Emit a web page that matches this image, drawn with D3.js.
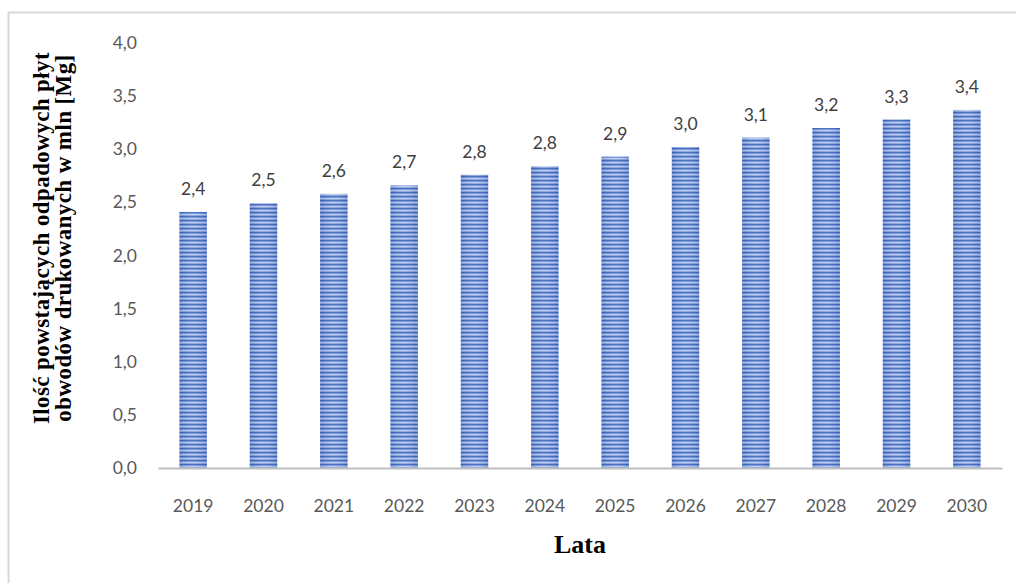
<!DOCTYPE html>
<html>
<head>
<meta charset="utf-8">
<script src="https://cdn.jsdelivr.net/npm/d3@7/dist/d3.min.js"></script>
<style>
  html, body { margin: 0; padding: 0; background: #fff; }
  svg { display: block; }
</style>
</head>
<body>
<svg id="chart" width="1016" height="583"></svg>
<script>
// Years on the x axis
const years = ["2019", "2020", "2021", "2022", "2023", "2024", "2025", "2026", "2027", "2028", "2029", "2030"];
// Waste PCB quantity, million Mg
const amounts = [2.41, 2.49, 2.58, 2.66, 2.76, 2.84, 2.93, 3.02, 3.11, 3.20, 3.28, 3.37];
// Y axis ticks
const yTicks = [0, 0.5, 1.0, 1.5, 2.0, 2.5, 3.0, 3.5, 4.0];
const yTitleLines = ["Ilość powstających odpadowych płyt", "obwodów drukowanych w mln [Mg]"];
const xTitle = "Lata";

const svg = d3.select("#chart");
const fmt = v => d3.format(".1f")(v).replace(".", ",");
const tickFont = "Lato, 'Open Sans', sans-serif";

// outer frame
svg.append("rect")
  .attr("x", 8.5).attr("y", 12.5)
  .attr("width", 1030).attr("height", 600)
  .attr("fill", "none").attr("stroke", "#d9d9d9").attr("stroke-width", 2);

const plot = { left: 158, right: 1002, top: 43, bottom: 468 };

const x = d3.scaleBand().domain(years).range([plot.left, plot.right]).paddingInner(0.61).paddingOuter(0.305);
const y = d3.scaleLinear().domain([0, 4]).range([plot.bottom, plot.top]);

// striped bar fill
const defs = svg.append("defs");
const pat = defs.append("pattern")
  .attr("id", "stripes").attr("patternUnits", "userSpaceOnUse")
  .attr("width", 8).attr("height", 4);
const rows = ["#3862be", "#7391d6", "#b9cbef", "#86a2dc"];
rows.forEach((c, i) => pat.append("rect").attr("x", 0).attr("y", i).attr("width", 8).attr("height", 1).attr("fill", c));

const shade = defs.append("linearGradient").attr("id", "shade").attr("x1", 0).attr("x2", 1).attr("y1", 0).attr("y2", 0);
shade.append("stop").attr("offset", 0).attr("stop-color", "#2f55a8").attr("stop-opacity", 0.25);
shade.append("stop").attr("offset", 0.5).attr("stop-color", "#ffffff").attr("stop-opacity", 0.1);
shade.append("stop").attr("offset", 1).attr("stop-color", "#2f55a8").attr("stop-opacity", 0.25);

const bars = svg.append("g");
years.forEach((yr, i) => {
  const bx = x(yr), bw = x.bandwidth(), by = y(amounts[i]), bh = y(0) - y(amounts[i]);
  bars.append("rect").attr("x", bx).attr("y", by).attr("width", bw).attr("height", bh).attr("fill", "url(#stripes)");
  bars.append("rect").attr("x", bx).attr("y", by).attr("width", bw).attr("height", bh).attr("fill", "url(#shade)");
});

// value labels
svg.append("g").selectAll("text").data(years).join("text")
  .attr("x", d => x(d) + x.bandwidth() / 2)
  .attr("y", (d, i) => y(amounts[i]) - 17)
  .attr("text-anchor", "middle")
  .attr("font-family", tickFont)
  .attr("font-size", 17.5).attr("fill", "#404040")
  .text((d, i) => fmt(amounts[i]));

// y axis
const yAxis = svg.append("g").attr("transform", `translate(${plot.left},0)`)
  .call(d3.axisLeft(y).tickValues(yTicks).tickFormat(fmt).tickSize(0).tickPadding(21));
yAxis.select(".domain").remove();
yAxis.selectAll("text").attr("font-family", tickFont).attr("font-size", 17.5).attr("fill", "#595959");

// x axis
const xAxis = svg.append("g").attr("transform", `translate(0,${plot.bottom})`)
  .call(d3.axisBottom(x).tickSize(0).tickPadding(32));
xAxis.select(".domain").attr("stroke", "#bfbfbf").attr("stroke-width", 2);
xAxis.selectAll("text").attr("font-family", tickFont).attr("font-size", 17.5).attr("fill", "#595959");

// axis titles
const yt = svg.append("text")
  .attr("transform", "translate(49,238) rotate(-90)")
  .attr("text-anchor", "middle")
  .attr("font-family", "'Liberation Serif', 'Times New Roman', serif")
  .attr("font-weight", "bold").attr("font-size", 23)
  .attr("letter-spacing", 0.4).attr("fill", "#000");
yTitleLines.forEach((t, i) => yt.append("tspan").attr("x", 0).attr("dy", i === 0 ? 0 : 22).text(t));

svg.append("text")
  .attr("x", 580).attr("y", 553)
  .attr("text-anchor", "middle")
  .attr("font-family", "'Liberation Serif', 'Times New Roman', serif")
  .attr("font-weight", "bold").attr("font-size", 26).attr("fill", "#000")
  .text(xTitle);
</script>
</body>
</html>
